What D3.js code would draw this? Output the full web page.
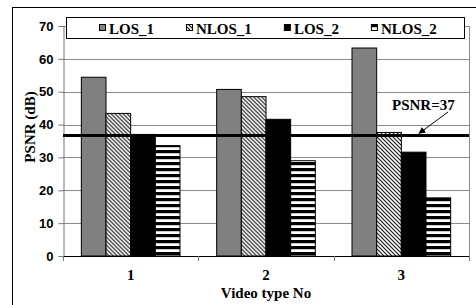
<!DOCTYPE html>
<html>
<head>
<meta charset="utf-8">
<script src="https://cdnjs.cloudflare.com/ajax/libs/d3/7.8.5/d3.min.js"></script>
<style>
html,body{margin:0;padding:0;background:#fff;}
svg{display:block;}
</style>
</head>
<body>
<svg id="chart" width="476" height="305"></svg>
<script>
// ---- data ----
const categories = ["1", "2", "3"];
const seriesNames = ["LOS_1", "NLOS_1", "LOS_2", "NLOS_2"];
const los1  = [54.4, 50.7, 63.3];
const nlos1 = [43.4, 48.5, 37.6];
const los2  = [37.0, 41.6, 31.6];
const nlos2 = [33.6, 29.0, 17.7];
const yTicks = [0, 10, 20, 30, 40, 50, 60, 70];
const refValue = 36.7;
const refLabel = "PSNR=37";
const xTitle = "Video type No";
const yTitle = "PSNR (dB)";

const seriesValues = [los1, nlos1, los2, nlos2];
const fills = ["#808080", "url(#hatchDiag)", "#000000", "url(#hatchHoriz)"];

const serif = "'Liberation Serif','Times New Roman',serif";
const sans = "'Liberation Sans',Arial,sans-serif";

const svg = d3.select("#chart");
const defs = svg.append("defs");

// diagonal hatch "\\"
const pd = defs.append("pattern").attr("id", "hatchDiag")
  .attr("patternUnits", "userSpaceOnUse").attr("width", 4).attr("height", 4);
pd.append("rect").attr("width", 4).attr("height", 4).attr("fill", "#fff");
pd.append("path").attr("d", "M-1,-1 L5,5 M-1,3 L1,5 M3,-1 L5,1")
  .attr("stroke", "#1a1a1a").attr("stroke-width", 1.2);

// horizontal stripes
const ph = defs.append("pattern").attr("id", "hatchHoriz")
  .attr("patternUnits", "userSpaceOnUse").attr("width", 6).attr("height", 6);
ph.append("rect").attr("width", 6).attr("height", 6).attr("fill", "#fff");
ph.append("rect").attr("y", 0).attr("width", 6).attr("height", 3.2).attr("fill", "#000");

defs.append("marker").attr("id", "arrow")
  .attr("viewBox", "0 0 10 10").attr("refX", 9).attr("refY", 5)
  .attr("markerWidth", 7).attr("markerHeight", 7).attr("orient", "auto")
  .append("path").attr("d", "M0,0 L10,5 L0,10 z").attr("fill", "#000");

// outer frame
svg.append("rect").attr("x", 12.5).attr("y", 7.5).attr("width", 480).attr("height", 320)
  .attr("fill", "#fff").attr("stroke", "#000").attr("stroke-width", 1);

const plotL = 63, plotR = 469, plotT = 26, plotB = 256;
const y = d3.scaleLinear().domain([0, 70]).range([plotB, plotT]);
const pad = 0.271;
const x0 = d3.scaleBand().domain(categories).range([plotL, plotR])
  .paddingInner(pad).paddingOuter(pad / 2);
const x1 = d3.scaleBand().domain(seriesNames).range([0, x0.bandwidth()]);

// gridlines
svg.append("g").selectAll("line").data(yTicks.filter(d => d > 0)).join("line")
  .attr("x1", plotL).attr("x2", plotR)
  .attr("y1", d => Math.round(y(d)) + 0.5).attr("y2", d => Math.round(y(d)) + 0.5)
  .attr("stroke", "#8a8a8a").attr("stroke-width", 1);
// right border of plot area
svg.append("line").attr("x1", plotR + 0.5).attr("x2", plotR + 0.5)
  .attr("y1", plotT).attr("y2", plotB).attr("stroke", "#8a8a8a");

// bars
const groups = svg.append("g").selectAll("g").data(categories).join("g")
  .attr("transform", c => `translate(${x0(c)},0)`);
groups.selectAll("rect")
  .data((c, i) => seriesNames.map((s, j) => ({ s, j, v: seriesValues[j][i] })))
  .join("rect")
  .attr("x", d => x1(d.s))
  .attr("y", d => y(d.v))
  .attr("width", x1.bandwidth())
  .attr("height", d => y(0) - y(d.v))
  .attr("fill", d => fills[d.j])
  .attr("stroke", "#000").attr("stroke-width", 1);

// y axis
const yAxis = svg.append("g").attr("transform", `translate(${plotL + 0.5},0)`)
  .call(d3.axisLeft(y).tickValues(yTicks).tickSize(5).tickSizeOuter(0).tickPadding(5));
yAxis.select(".domain").attr("stroke", "#777");
yAxis.selectAll(".tick line").attr("stroke", "#777");
yAxis.selectAll(".tick text").attr("font-family", sans).attr("font-weight", "bold")
  .attr("font-size", 13).attr("fill", "#000");

// x axis (baseline + tick marks at band boundaries)
svg.append("line").attr("x1", plotL).attr("x2", plotR)
  .attr("y1", plotB + 0.5).attr("y2", plotB + 0.5).attr("stroke", "#000");
const bounds = categories.map(c => x0(c) - x0.step() * pad / 2).concat([plotR]);
svg.append("g").selectAll("line").data(bounds).join("line")
  .attr("x1", d => Math.round(d) + 0.5).attr("x2", d => Math.round(d) + 0.5)
  .attr("y1", plotB).attr("y2", plotB + 5).attr("stroke", "#777");
const xAxis = svg.append("g").attr("transform", `translate(0,${plotB})`)
  .call(d3.axisBottom(x0).tickSize(0).tickPadding(13));
xAxis.select(".domain").remove();
xAxis.selectAll(".tick text").attr("font-family", serif).attr("font-weight", "bold")
  .attr("font-size", 15).attr("fill", "#000");

// reference line
svg.append("line").attr("x1", plotL).attr("x2", plotR)
  .attr("y1", y(refValue)).attr("y2", y(refValue))
  .attr("stroke", "#000").attr("stroke-width", 3);
svg.append("text").attr("x", 392).attr("y", 110)
  .attr("font-family", serif).attr("font-weight", "bold").attr("font-size", 15)
  .text(refLabel);
svg.append("line").attr("x1", 448).attr("y1", 112).attr("x2", 419).attr("y2", y(refValue) - 2)
  .attr("stroke", "#000").attr("stroke-width", 1).attr("marker-end", "url(#arrow)");

// legend
svg.append("rect").attr("x", 66.5).attr("y", 17.5).attr("width", 398).attr("height", 21)
  .attr("fill", "#fff").attr("stroke", "#000");
const lg = svg.append("g");
let lx = 99;
seriesNames.forEach((s, j) => {
  lg.append("rect").attr("x", lx + 0.5).attr("y", 24.5).attr("width", 6).attr("height", 6)
    .attr("fill", fills[j]).attr("stroke", "#000");
  const t = lg.append("text").attr("x", lx + 10).attr("y", 33.5)
    .attr("font-family", serif).attr("font-weight", "bold").attr("font-size", 15)
    .text(s);
  lx += 10 + t.node().getComputedTextLength() + 32;
});

// axis titles
svg.append("text").attr("x", 266).attr("y", 298).attr("text-anchor", "middle")
  .attr("font-family", serif).attr("font-weight", "bold").attr("font-size", 15)
  .text(xTitle);
svg.append("text").attr("transform", "translate(35,127) rotate(-90)")
  .attr("text-anchor", "middle")
  .attr("font-family", serif).attr("font-weight", "bold").attr("font-size", 15)
  .text(yTitle);
</script>
</body>
</html>
